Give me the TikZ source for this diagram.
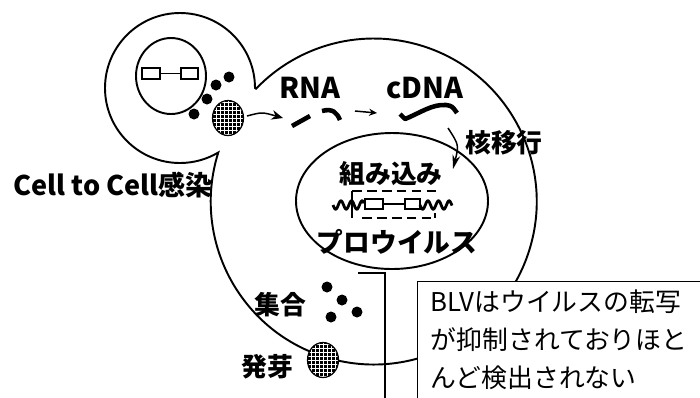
\documentclass[tikz,border=0pt]{standalone}
\usepackage{fontspec}
\setmainfont{Noto Sans CJK JP}
\usetikzlibrary{shapes.geometric, arrows.meta, positioning}
\tikzstyle{membrane} = [line width=1.1pt]
\tikzstyle{gene} = [line width=0.8pt]
\tikzstyle{strand} = [line width=2.6pt, line join=round]
\tikzstyle{wave} = [line width=1.6pt]
\tikzstyle{flow} = [line width=0.85pt, -{Stealth[length=6.5pt,width=5.5pt]}]
\tikzstyle{lbl} = [font=\bfseries\fontsize{14.7pt}{17pt}\selectfont, inner sep=0pt]
\tikzstyle{latinlbl} = [lbl, font=\bfseries\fontsize{16.3pt}{18pt}\selectfont]
\tikzstyle{granule} = [fill=black]
\tikzstyle{virion} = [ellipse, draw, line width=0.7pt, fill=black, inner sep=0pt,
  minimum width=0.62cm, minimum height=0.7cm,
  path picture={\foreach \k in {-5,...,5}{
    \draw[white, line width=0.45pt] ([xshift=\k*0.08cm]path picture bounding box.north) -- ([xshift=\k*0.08cm]path picture bounding box.south);
    \draw[white, line width=0.45pt] ([yshift=\k*0.08cm]path picture bounding box.west) -- ([yshift=\k*0.08cm]path picture bounding box.east);}}]
\tikzstyle{notebox} = [draw, fill=white, line width=0.8pt, align=left, text width=6cm,
  inner xsep=0.26cm, inner ysep=0.16cm, text depth=2.5cm,
  font=\fontsize{14.7pt}{21.6pt}\selectfont]

\begin{document}
\begin{tikzpicture}[x=0.02cm, y=-0.02cm, node distance=0.9cm]
    \useasboundingbox (0,0) rectangle (700,397);

    % infected cell joined to the target cell
    \draw[membrane] (255,88) arc[start angle=360, end angle=59.3, radius=75]
        arc[start angle=197.5, end angle=-136.2, radius=163] -- cycle;

    % nuclei
    \draw[membrane] (171,76) ellipse[x radius=35, y radius=38];
    \draw[membrane] (392,201) ellipse[x radius=96, y radius=68];

    % provirus of the infected cell
    \draw[gene] (142,68) rectangle (160,79);
    \draw[gene] (160,73.5) -- (181,73.5);
    \draw[gene] (181,68) rectangle (198,79);

    % particles leaving the infected cell
    \foreach \px/\py in {229/77, 216/85, 207/99, 194/114}
        \fill[granule] (\px,\py) circle[radius=5.5];
    \node (bud) [virion] at (228,118) {};

    % reverse transcription
    \coordinate (rt0) at (247,116);
    \coordinate (rt1) at (283,118);
    \draw[flow] (rt0) .. controls (262,112) .. (rt1);
    \draw[strand] (292,126) -- (310,116);
    \draw[strand] (322,111) .. controls (333,108) and (337,113) .. (340,120);
    \coordinate (rt2) at (355,111);
    \coordinate (rt3) at (377,113);
    \draw[flow, -{Stealth[length=4.5pt,width=4pt]}] (rt2) -- (rt3);
    \draw[strand] (400,114) -- (405,119) .. controls (420,113) and (432,104) .. (446,105)
        .. controls (452,106) .. (457,113);

    % nuclear import
    \coordinate (imp0) at (448,128);
    \coordinate (imp1) at (453,169);
    \draw[flow, -{Stealth[length=8pt,width=4.5pt]}] (imp0) .. controls (459,145) .. (imp1);

    % integrated provirus
    \draw[wave] plot[domain=333:364, samples=60] (\x, {205+4.2*sin(34*(\x-333))});
    \draw[wave] plot[domain=420:452, samples=60] (\x, {205+4.2*sin(34*(\x-420))});
    \draw[gene] (365,199) rectangle (383,209);
    \draw[gene] (383,204) -- (405,204);
    \draw[gene] (405,199) rectangle (420,209);
    \draw[gene] (352,218) -- (352,191);
    \draw[gene, dash pattern=on 5.5pt off 3pt] (352,191) -- (437,191);
    \draw[gene, dash pattern=on 5.5pt off 3pt] (362,218) -- (435,218);
    \draw[gene] (435,218) -- (435,213);

    % assembly and budding
    \foreach \px/\py in {327/287, 342/300, 357/312, 331/317}
        \fill[granule] (\px,\py) circle[radius=5.5];
    \node (bud2) [virion] at (323,360) {};

    % labels
    \node (rnatext) [latinlbl] at (310,88) {RNA};
    \node (cdnatext) [latinlbl, right=of rnatext] {cDNA};
    \node (import) [lbl] at (504,143) {核移行};
    \node (integ) [lbl] at (391,174) {組み込み};
    \node (provirus) [lbl, font=\bfseries\fontsize{15.2pt}{17pt}\selectfont] at (397,242) {プロウイルス};
    \node (c2c) [lbl, font=\bfseries\fontsize{15.4pt}{17pt}\selectfont] at (113,185) {Cell to Cell感染};
    \node (assembly) [lbl] at (280,305) {集合};
    \node (budding) [lbl] at (267,367) {発芽};

    % note
    \coordinate (br0) at (358,273);
    \coordinate (br1) at (385,273);
    \coordinate (br2) at (385,400);
    \draw[gene] (br0) -- (br1) -- (br2);
    \node (note) [notebox, anchor=north west] at (417,281)
        {BLVはウイルスの転写\\が抑制されておりほと\\んど検出されない};
\end{tikzpicture}
\end{document}
